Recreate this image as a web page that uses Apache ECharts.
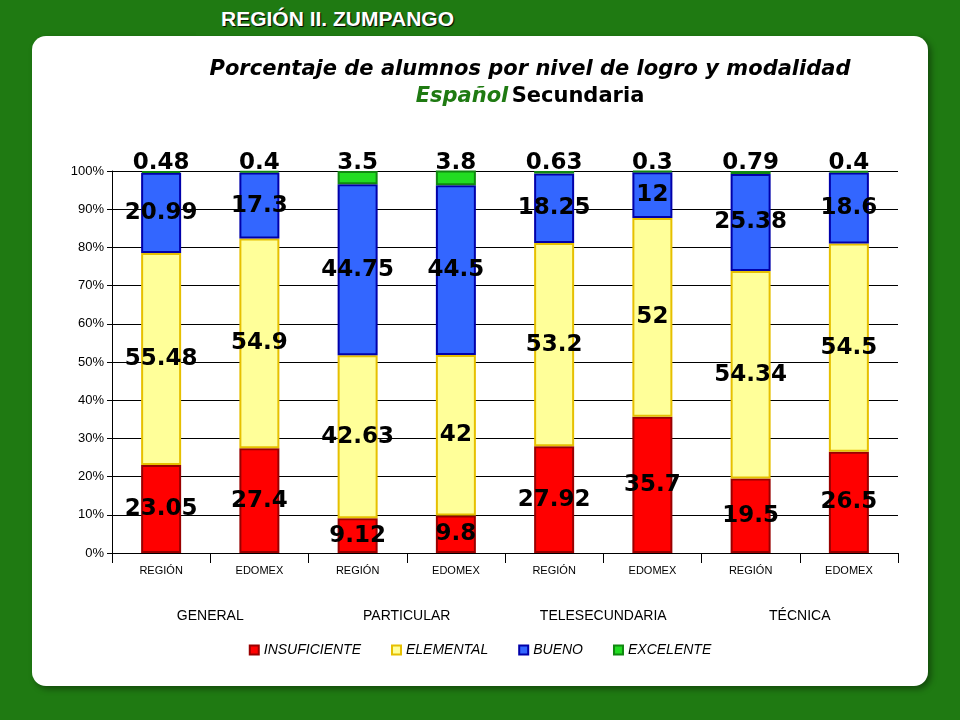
<!DOCTYPE html>
<html><head><meta charset="utf-8">
<script src="https://cdn.jsdelivr.net/npm/echarts@6/dist/echarts.min.js"></script>
<style>
html,body{margin:0;padding:0;width:960px;height:720px;background:#1f7a12;overflow:hidden;font-family:Arial,"Liberation Sans",sans-serif}
#panel{position:absolute;left:32px;top:36px;width:896px;height:650px;background:#fff;border-radius:14px;box-shadow:3px 3px 6px rgba(0,0,0,.4)}
#hdr{position:absolute;left:196px;top:0;width:283px;height:35px;background:#1f7a12;color:#fff;font-weight:bold;font-size:21px;text-align:center;line-height:38px;text-shadow:1px 1px 1px #000}
#chart{position:absolute;left:0;top:0;width:960px;height:720px}
</style></head><body>
<div id="panel"></div><div id="hdr">REGIÓN II. ZUMPANGO</div>
<div id="chart"></div>
<script>
const categories=["REGIÓN","EDOMEX","REGIÓN","EDOMEX","REGIÓN","EDOMEX","REGIÓN","EDOMEX"];
const groups=["GENERAL","PARTICULAR","TELESECUNDARIA","TÉCNICA"];
const insuficiente=[23.05,27.4,9.12,9.8,27.92,35.7,19.5,26.5];
const elemental=[55.48,54.9,42.63,42,53.2,52,54.34,54.5];
const bueno=[20.99,17.3,44.75,44.5,18.25,12,25.38,18.6];
const excelente=[0.48,0.4,3.5,3.8,0.63,0.3,0.79,0.4];
const ch=echarts.init(document.getElementById('chart'));
const lab={show:true,color:'#000',fontSize:23,fontWeight:'bold',fontFamily:'DejaVu Sans',formatter:p=>String(p.value)};
function s(name,data,color,border,pos){return{name,type:'bar',stack:'a',data,barWidth:40,
 itemStyle:{color,borderColor:border,borderWidth:2},label:Object.assign({},lab,{position:pos||'inside'},pos?{distance:-4}:{})};}
const sh={textShadowColor:'#999',textShadowOffsetX:2,textShadowOffsetY:2};
ch.setOption({
 backgroundColor:'transparent',
 title:{text:'Porcentaje de alumnos por nivel de logro y modalidad',left:525,top:54,textAlign:'center',
  textStyle:Object.assign({fontSize:21,fontStyle:'italic',fontWeight:'bold',fontFamily:'DejaVu Sans',color:'#000'},sh),
  subtext:'{g|Español} {b|Secundaria}',subtextStyle:{rich:{g:Object.assign({fontSize:21,fontStyle:'italic',fontWeight:'bold',fontFamily:'DejaVu Sans',color:'#1f7a12'},sh),b:Object.assign({fontSize:21,fontWeight:'bold',fontFamily:'DejaVu Sans',color:'#000'},sh)}},itemGap:6},
 legend:{bottom:58,left:'center',itemWidth:9,itemHeight:9,itemGap:30,icon:'rect',textStyle:{fontStyle:'italic',fontSize:14,color:'#000'},
  data:['INSUFICIENTE','ELEMENTAL','BUENO','EXCELENTE']},
 grid:{left:112,right:62,top:171,bottom:167},
 xAxis:[{type:'category',data:categories,axisTick:{show:true,length:10},axisLine:{lineStyle:{color:'#000'}},
   axisLabel:{fontSize:11,color:'#000',margin:12}},
  {type:'category',data:groups,position:'bottom',offset:48,axisLine:{show:false},axisTick:{show:false},
   axisLabel:{fontSize:14,color:'#000'}}],
 yAxis:{type:'value',min:0,max:100,interval:10,axisLine:{show:true,lineStyle:{color:'#000'}},axisTick:{show:true},
  axisLabel:{formatter:'{value}%',fontSize:13,color:'#000'},splitLine:{lineStyle:{color:'#000'}}},
 series:[s('INSUFICIENTE',insuficiente,'#ff0000','#990000'),s('ELEMENTAL',elemental,'#ffff99','#e6c000'),
  s('BUENO',bueno,'#3366ff','#0000aa'),s('EXCELENTE',excelente,'#22dd22','#118811','top')]
});
</script></body></html>
